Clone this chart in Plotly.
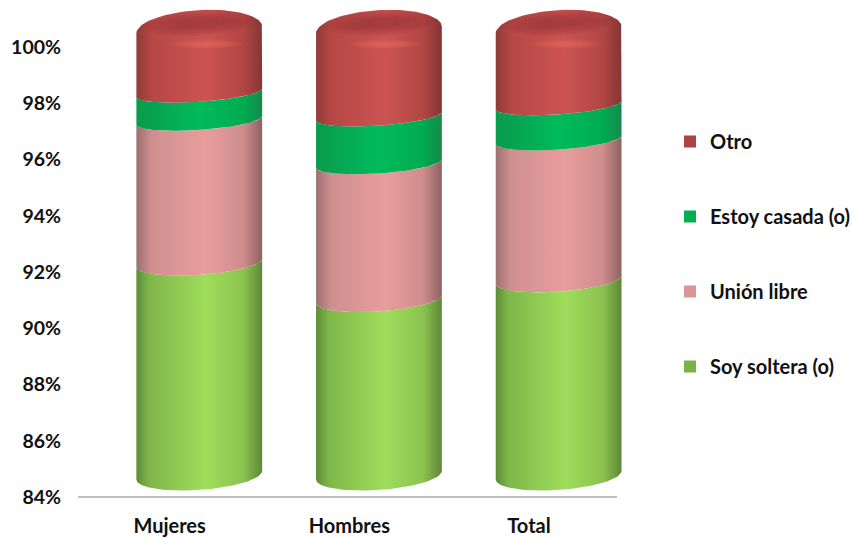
import numpy as np
import plotly.graph_objects as go

categories = ["Mujeres", "Hombres", "Total"]
soltera = [91.9, 90.6, 91.3]
union_libre = [5.15, 4.9, 5.05]
casada = [1.0, 1.7, 1.25]
otro = [1.95, 2.8, 2.4]
series_names = ["Soy soltera (o)", "Unión libre", "Estoy casada (o)", "Otro"]
tick_values = [84, 86, 88, 90, 92, 94, 96, 98, 100]

FLOOR = 84.25
OFFSET = 0.175
HALF = 0.35
t_front = np.linspace(np.pi, 2 * np.pi, 60)
t_top = np.linspace(0, np.pi, 60)
t_full = np.linspace(0, 2 * np.pi, 80)

scales = {
    "Soy soltera (o)": [[0, "#5d8c36"], [0.1, "#7fb64a"], [0.55, "#9fdd5c"], [0.85, "#8cc350"], [1, "#5f8739"]],
    "Unión libre": [[0, "#9c7070"], [0.12, "#cf8f8f"], [0.55, "#e99d9d"], [0.85, "#cf8d8d"], [1, "#8f6262"]],
    "Estoy casada (o)": [[0, "#0a9a4c"], [0.5, "#00bb5c"], [0.85, "#00ab52"], [1, "#158a4a"]],
    "Otro": [[0, "#8f3b39"], [0.12, "#b54745"], [0.55, "#cb5451"], [0.85, "#b24644"], [1, "#843634"]],
}
swatch = {"Soy soltera (o)": "#79b347", "Unión libre": "#dc9596", "Estoy casada (o)": "#00b050", "Otro": "#ab4341"}


def arc(cx, v):
    b = 0.53 - (v - 84) * 0.0144
    return cx + HALF * np.cos(t_front), v + b * (1 + np.sin(t_front)) + 0.15 * np.cos(t_front)


def dome(cx, v):
    return cx + HALF * np.cos(t_top), v + 0.6 + 0.71 * np.sin(t_top) + 0.12 * np.cos(t_top)


stack = np.array([soltera, union_libre, casada, otro])
tops = np.cumsum(stack, axis=0)
fig = go.Figure()

for c in range(len(categories)):
    cx = c + 0.5 + OFFSET
    lower = FLOOR
    for s, name in enumerate(series_names):
        upper = tops[s, c]
        lx, ly = arc(cx, lower)
        ux, uy = dome(cx, upper) if s == 3 else tuple(a[::-1] for a in arc(cx, upper))
        fig.add_trace(go.Scatter(
            x=np.r_[lx, ux], y=np.r_[ly, uy], mode="lines", line=dict(width=0), fill="toself",
            fillgradient=dict(type="horizontal", colorscale=scales[name]),
            showlegend=False, hoverinfo="skip"))
        lower = upper
    # soft darker top face: nested translucent ellipses
    for k in np.linspace(1.0, 0.35, 7):
        fig.add_trace(go.Scatter(
            x=cx + 0.31 * k * np.cos(t_full),
            y=tops[3, c] + 0.85 + 0.45 * k * np.sin(t_full) + 0.1 * k * np.cos(t_full),
            mode="lines", line=dict(width=0), fill="toself", fillcolor="rgba(130,42,42,0.09)",
            showlegend=False, hoverinfo="skip"))
    # soft rim highlight: nested translucent ellipses
    for k in np.linspace(1.0, 0.3, 7):
        fig.add_trace(go.Scatter(
            x=cx + 0.04 + 0.2 * k * np.cos(t_full),
            y=tops[3, c] + 0.1 + 0.17 * k * np.sin(t_full),
            mode="lines", line=dict(width=0), fill="toself", fillcolor="rgba(236,112,104,0.11)",
            showlegend=False, hoverinfo="skip"))

for name in reversed(series_names):
    fig.add_trace(go.Scatter(
        x=[None], y=[None], mode="markers", name=name, legendgroup=name,
        marker=dict(symbol="square", size=12, color=swatch[name])))

fig.add_shape(type="line", xref="x", yref="y", x0=0, x1=3, y0=84, y1=84,
              line=dict(color="#bfbfc4", width=2), layer="below")

fig.update_layout(
    width=853, height=538, autosize=False,
    margin=dict(l=78, r=227, t=5, b=40),
    paper_bgcolor="white", plot_bgcolor="white",
    font=dict(family="Lato", size=20, color="#111111", weight="bold"),
    xaxis=dict(range=[0, 3.05], tickvals=[0.51, 1.51, 2.51], ticktext=categories, showgrid=False, zeroline=False,
               showline=False, ticks="", ticklabelstandoff=14, automargin=False),
    yaxis=dict(range=[83.965, 101.49], tickvals=tick_values, ticktext=[f"{v}%" for v in tick_values],
               tickfont=dict(size=19.5), showgrid=False, zeroline=False, showline=False, ticks="",
               ticklabelstandoff=16, automargin=False),
    legend=dict(xref="container", yref="container", x=670 / 853, xanchor="left", y=1 - 122 / 538, yanchor="top",
                tracegroupgap=46, itemclick=False, entrywidth=135, entrywidthmode="pixels",
                font=dict(size=20), bgcolor="rgba(0,0,0,0)"),
)
fig.write_html("out.html", config={"displayModeBar": False}, post_script="document.body.style.margin='0';")
